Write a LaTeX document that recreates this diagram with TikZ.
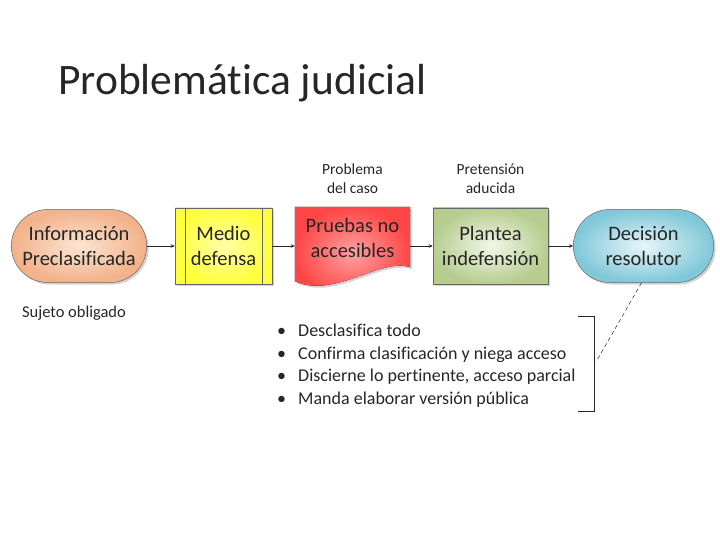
\documentclass[tikz,border=0pt]{standalone}
\usepackage{fontspec}
\setmainfont{Carlito}[Ligatures=NoCommon]
\usetikzlibrary{arrows.meta,shapes.misc,shadows}
\definecolor{infoedge}{HTML}{F2B28A}
\definecolor{infocore}{HTML}{FCE4D2}
\definecolor{mededge}{HTML}{FFFF3C}
\definecolor{medcore}{HTML}{FFFFA8}
\definecolor{pruedge}{HTML}{FF4646}
\definecolor{prucore}{HTML}{FFA0A0}
\definecolor{planedge}{HTML}{B7CD90}
\definecolor{plancore}{HTML}{F2F6E8}
\definecolor{decedge}{HTML}{80C8D8}
\definecolor{deccore}{HTML}{E8F5F9}
\definecolor{lineink}{HTML}{262626}

\begin{document}
\begin{tikzpicture}[
  x=1pt,
  y=-1pt,
  every node/.style={font=\fontsize{20.5}{25}\selectfont, text=lineink, align=center},
  boxshadow/.style={drop shadow={opacity=0.35, shadow xshift=2pt, shadow yshift=-2pt}},
  stadium/.style={rounded rectangle, draw=lineink!70, line width=0.5pt,
                  minimum height=73pt, boxshadow},
  procbox/.style={rectangle, draw=lineink!70, line width=0.5pt,
                  minimum width=97pt, minimum height=76pt, boxshadow},
  docbox/.style={rectangle, minimum width=115pt, minimum height=78pt, inner sep=0pt},
  flow/.style={lineink, line width=0.6pt, -{Stealth[length=4pt,width=3.5pt]}},
  caption/.style={font=\fontsize{15.5}{19}\selectfont},
  leader/.style={lineink, line width=0.5pt, dash pattern=on 4pt off 3pt}
]
  % ---- page frame ----
  \path[use as bounding box] (0,0) rectangle (720,540);

  % ---- title ----
  \node[anchor=base west, inner sep=0pt, font=\fontsize{43.5}{52}\selectfont] (title)
    at (58,95) {Problemática judicial};

  % ---- the chain of boxes ----
  \node[stadium, minimum width=142pt, inner color=infocore, outer color=infoedge] (info)
    at (79,246) {Información\\Preclasificada};
  \node[procbox, inner color=medcore, outer color=mededge] (med)
    at (223.5,246) {Medio\\defensa};
  \draw[lineink!70, line width=0.5pt] ([xshift=10pt]med.north west) -- ([xshift=10pt]med.south west);
  \draw[lineink!70, line width=0.5pt] ([xshift=-10pt]med.north east) -- ([xshift=-10pt]med.south east);

  \node[docbox] (pru) at (352.5,246) {};
  \fill[inner color=prucore, outer color=pruedge, boxshadow]
    (pru.north west) -- (pru.north east) -- ([yshift=18pt]pru.south east)
    .. controls ([xshift=-30pt,yshift=28pt]pru.south east) and ([xshift=40pt,yshift=-14pt]pru.south west)
    .. ([yshift=4pt]pru.south west) -- cycle;
  \node[inner sep=0pt] (prutxt) at ([yshift=8pt]pru.center) {Pruebas no\\accesibles};

  \node[procbox, minimum width=115pt, inner color=plancore, outer color=planedge] (plan)
    at (490.5,246) {Plantea\\indefensión};
  \node[stadium, minimum width=147pt, inner color=deccore, outer color=decedge] (dec)
    at (643.5,246) {Decisión\\resolutor};

  % ---- connectors ----
  \draw[flow] (info.east) -- (med.west);
  \draw[flow] (med.east) -- (pru.west);
  \draw[flow] (pru.east) -- (plan.west);
  \draw[flow] (plan.east) -- (dec.west);

  % ---- captions ----
  \node[caption] (problema) at (352.5,179) {Problema\\del caso};
  \node[caption] (pretension) at (490.5,179) {Pretensión\\aducida};
  \node[caption, font=\fontsize{16.5}{20}\selectfont] (sujeto) at (74,313) {Sujeto obligado};

  % ---- possible outcomes ----
  \node[anchor=north west, inner sep=0pt, align=left,
        font=\fontsize{18}{22.5}\selectfont] (outcomes) at (277,324)
    {\makebox[21pt][l]{\textbullet}Desclasifica todo\\
     \makebox[21pt][l]{\textbullet}Confirma clasificación y niega acceso\\
     \makebox[21pt][l]{\textbullet}Discierne lo pertinente, acceso parcial\\
     \makebox[21pt][l]{\textbullet}Manda elaborar versión pública};

  % ---- bracket and leader to the decision ----
  \draw[lineink, line width=0.7pt] (578,316) -- (594,316) -- (594,411) -- (578,411);
  \coordinate (brk) at (596,362);
  \draw[leader] ([xshift=-2pt]dec.south) -- (brk);
\end{tikzpicture}
\end{document}
